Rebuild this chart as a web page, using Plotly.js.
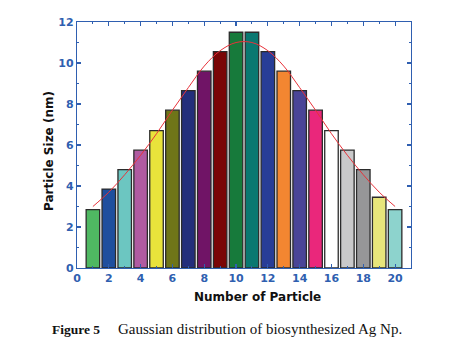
<!DOCTYPE html>
<html>
<head>
<meta charset="utf-8">
<script src="https://cdn.plot.ly/plotly-3.0.1.min.js"></script>
<style>
html,body{margin:0;padding:0;background:#fff;}
#chart{width:454px;height:354px;}
</style>
</head>
<body>
<div id="chart"></div>
<script>
// Data
const particleNumber = [1,2,3,4,5,6,7,8,9,10,11,12,13,14,15,16,17,18,19,20];
const particleSize = [2.85,3.85,4.8,5.75,6.7,7.7,8.65,9.6,10.55,11.5,11.5,10.55,9.6,8.65,7.7,6.7,5.75,4.8,3.45,2.85];
const barColors = ['#4fb862','#1f4f9e','#6cc6c1','#b05ba1','#e9e33b','#6f7518','#232e7b','#701466','#7a0506','#177a3b','#0a7871','#283d97','#f38631','#4a4597','#ea277b','#ffffff','#c9c9ca','#969698','#e7e57b','#8dd3cd'];
const fitX = [1,2,3,4,5,6,7,8,9,10,11,12,13,14,15,16,17,18,19,20];
const fitY = [3.0,3.7,4.55,5.5,6.55,7.7,8.8,9.85,10.6,11.0,11.0,10.6,9.85,8.8,7.7,6.55,5.5,4.55,3.7,3.0];
const xTitle = 'Number of Particle';
const yTitle = 'Particle Size (nm)';
const captionLabel = 'Figure 5';
const captionText = 'Gaussian distribution of biosynthesized Ag Np.';

const axisBlue = '#2f5fb0';
const titleFont = {family: 'DejaVu Sans, Open Sans, sans-serif', size: 12, color: '#111', weight: 'bold'};

const traces = [
  {
    type: 'bar', x: particleNumber, y: particleSize, width: 0.85,
    marker: {color: barColors, line: {color: '#2b2b2b', width: 1.3}},
    hoverinfo: 'none', showlegend: false
  },
  {
    type: 'scatter', mode: 'lines', x: fitX, y: fitY,
    line: {color: '#e8323a', width: 1, shape: 'spline', smoothing: 1},
    hoverinfo: 'none', showlegend: false
  }
];

const axisCommon = {
  showgrid: false, zeroline: false, showline: true, mirror: 'ticks',
  linecolor: axisBlue, linewidth: 1.2, ticks: 'inside', ticklen: 4, tickwidth: 1.2, tickcolor: axisBlue,
  tickfont: {family: 'DejaVu Sans, Open Sans, sans-serif', size: 11, color: axisBlue, weight: 'bold'}
};

const layout = {
  width: 454, height: 354,
  margin: {l: 77, r: 43, t: 22, b: 86},
  paper_bgcolor: '#ffffff', plot_bgcolor: '#ffffff',
  xaxis: Object.assign({}, axisCommon, {
    range: [0, 21], tick0: 0, dtick: 2,
    minor: {ticks: 'inside', dtick: 1, ticklen: 2, tickcolor: axisBlue, tickwidth: 1}
  }),
  yaxis: Object.assign({}, axisCommon, {
    range: [0, 12], tick0: 0, dtick: 2,
    minor: {ticks: 'inside', dtick: 1, ticklen: 2, tickcolor: axisBlue, tickwidth: 1}
  }),
  annotations: [
    {xref: 'paper', yref: 'paper', x: 0.539, y: -0.118, xanchor: 'center', yanchor: 'middle',
      showarrow: false, text: xTitle, font: titleFont},
    {xref: 'paper', yref: 'paper', x: -0.0823, y: 0.4736, xanchor: 'center', yanchor: 'middle',
      showarrow: false, textangle: -90, text: yTitle, font: titleFont},
    {xref: 'paper', yref: 'paper', x: -0.081, y: -0.248, xanchor: 'left', yanchor: 'middle',
      showarrow: false, text: '<b>' + captionLabel + '</b>',
      font: {family: 'Liberation Serif, Times New Roman, serif', size: 13.5, color: '#111'}},
    {xref: 'paper', yref: 'paper', x: 0.117, y: -0.248, xanchor: 'left', yanchor: 'middle',
      showarrow: false, text: captionText,
      font: {family: 'Liberation Serif, Times New Roman, serif', size: 15, color: '#111'}}
  ]
};

Plotly.newPlot('chart', traces, layout, {staticPlot: true, displayModeBar: false});
</script>
</body>
</html>
